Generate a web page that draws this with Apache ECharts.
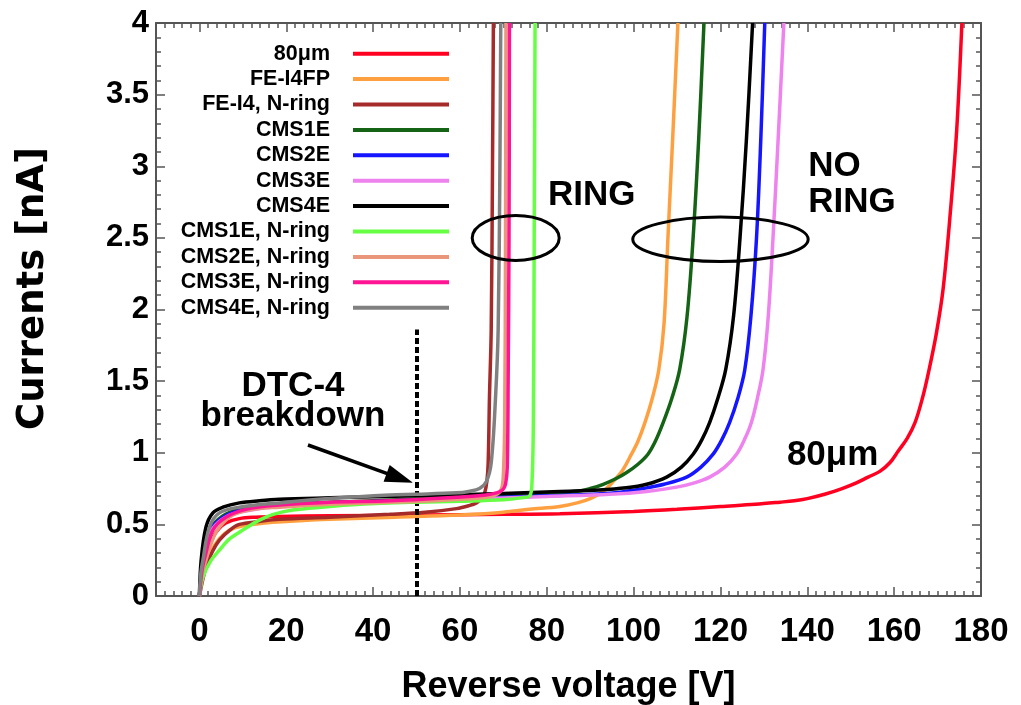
<!DOCTYPE html>
<html>
<head>
<meta charset="utf-8">
<script src="https://cdn.jsdelivr.net/npm/echarts@6/dist/echarts.min.js"></script>
<style>
  html, body { margin: 0; padding: 0; background: #fff; }
  #chart { width: 1021px; height: 705px; }
</style>
</head>
<body>
<div id="chart"></div>
<script>
// I–V curves: reverse voltage [V] vs current [nA]
const seriesNames = [
  '80\u03bcm', 'FE-I4FP', 'FE-I4, N-ring', 'CMS1E', 'CMS2E', 'CMS3E', 'CMS4E',
  'CMS1E, N-ring', 'CMS2E, N-ring', 'CMS3E, N-ring', 'CMS4E, N-ring'
];
const seriesColors = [
  '#ff0020', '#ffa040', '#a52a2a', '#156315', '#1515ff', '#ee82ee', '#000000',
  '#66ff44', '#e9967a', '#ff1493', '#808080'
];

const iv80um = [[0,0],[0.8,0.18],[2,0.33],[3.1,0.41],[4.5,0.47],[6.1,0.51],[9.2,0.54],[13,0.55],[18.4,0.555],[30,0.56],[50,0.565],[70,0.57],[83,0.575],[100,0.59],[110,0.605],[120,0.625],[128,0.64],[133.7,0.655],[137,0.665],[140,0.68],[144,0.71],[148,0.75],[151.3,0.79],[154,0.83],[156.7,0.87],[159,0.93],[160.9,1.01],[163,1.1],[164.8,1.21],[166.5,1.38],[167.9,1.56],[169.7,1.83],[171.3,2.15],[173,2.7],[174.4,3.25],[175.6,4.0]];
const ivFEI4FP = [[0,0],[1,0.18],[2.5,0.3],[4.6,0.4],[7,0.46],[10,0.49],[15,0.51],[20,0.52],[30,0.535],[45,0.55],[60,0.565],[70,0.585],[76,0.605],[83,0.625],[87,0.65],[90,0.68],[93,0.73],[95.3,0.8],[97.5,0.88],[99.5,0.99],[101,1.08],[102.6,1.21],[104.3,1.38],[105.8,1.58],[107,1.9],[107.9,2.5],[109,3.2],[110.2,4.0]];
const ivFEI4Nring = [[0,0],[1.5,0.2],[3,0.31],[4.6,0.39],[7,0.46],[9.2,0.5],[13.8,0.52],[18.4,0.535],[30,0.55],[43.8,0.57],[52,0.585],[59.2,0.61],[62,0.63],[63.8,0.65],[65,0.68],[65.7,0.72],[66.2,0.8],[66.5,0.93],[66.8,1.39],[67.2,1.86],[67.5,3],[67.7,4.0]];
const ivCMS1E = [[0,0],[0.7,0.25],[1.5,0.38],[3,0.49],[6,0.57],[10,0.61],[20,0.64],[40,0.665],[60,0.69],[76,0.71],[86.8,0.73],[90,0.75],[93,0.78],[96,0.82],[98.3,0.86],[101,0.92],[103.3,0.99],[105,1.08],[106.8,1.21],[108.8,1.38],[110.6,1.58],[112.3,1.95],[113.7,2.5],[115,3.2],[116.2,4.0]];
const ivCMS2E = [[0,0],[0.7,0.24],[1.5,0.37],[3,0.48],[6,0.56],[10,0.6],[20,0.635],[40,0.66],[60,0.68],[80,0.7],[90.6,0.71],[97,0.725],[102.2,0.75],[107,0.78],[112.2,0.83],[115.5,0.9],[118.3,0.99],[120.3,1.09],[122.1,1.21],[124,1.38],[125.6,1.58],[127,1.95],[128.3,2.5],[129.3,3.2],[130.2,4.0]];
const ivCMS3E = [[0,0],[0.7,0.23],[1.5,0.36],[3,0.47],[6,0.55],[10,0.59],[20,0.63],[40,0.655],[60,0.675],[80,0.695],[94.5,0.71],[103,0.73],[109.9,0.76],[114,0.79],[117.5,0.83],[121,0.9],[123.7,0.99],[125.5,1.09],[127.1,1.21],[128.5,1.38],[129.8,1.58],[131,1.95],[132.1,2.5],[133.3,3.2],[134.6,4.0]];
const ivCMS4E = [[0,0],[0.4,0.25],[1.5,0.48],[3.1,0.58],[5.4,0.62],[9.2,0.65],[13.8,0.665],[18.4,0.675],[30,0.685],[50,0.7],[70,0.715],[83,0.73],[92,0.74],[98.3,0.755],[103,0.78],[107.6,0.83],[111,0.9],[113.7,0.99],[115.7,1.09],[117.5,1.21],[119.4,1.38],[121.2,1.58],[123,1.95],[124.5,2.5],[126,3.2],[127.4,4.0]];
const ivCMS1ENring = [[0,0],[0.8,0.13],[2.5,0.24],[4.6,0.32],[7,0.4],[10,0.46],[13.8,0.53],[17,0.57],[21.5,0.6],[28,0.62],[36.9,0.64],[49.9,0.655],[60,0.662],[70,0.672],[74,0.685],[76.1,0.7],[76.6,0.8],[76.9,1.2],[77.1,2.5],[77.3,4.0]];
const ivCMS2ENring = [[0,0],[0.6,0.15],[1.5,0.25],[3,0.39],[4.6,0.48],[7.7,0.565],[12.3,0.605],[18.4,0.62],[30,0.64],[50,0.66],[60,0.675],[66,0.69],[68.5,0.71],[69.6,0.75],[70,0.85],[70.3,1.2],[70.5,2.5],[70.6,4.0]];
const ivCMS3ENring = [[0,0],[0.6,0.18],[1.5,0.3],[3.1,0.46],[6.1,0.55],[10.7,0.605],[18.4,0.635],[30,0.655],[43.8,0.665],[59.2,0.69],[66,0.705],[68.4,0.72],[69.8,0.74],[70.5,0.78],[70.9,0.9],[71.1,1.5],[71.3,2.5],[71.4,4.0]];
const ivCMS4ENring = [[0,0],[0.3,0.15],[0.8,0.25],[2.3,0.48],[4.6,0.58],[9.2,0.62],[18.4,0.65],[30,0.68],[43.8,0.705],[50,0.71],[59.2,0.72],[62,0.73],[64.5,0.75],[66.1,0.8],[67.2,0.93],[68.2,1.39],[68.8,1.86],[69.2,3],[69.4,4.0]];

const seriesData = [
  iv80um, ivFEI4FP, ivFEI4Nring, ivCMS1E, ivCMS2E, ivCMS3E, ivCMS4E,
  ivCMS1ENring, ivCMS2ENring, ivCMS3ENring, ivCMS4ENring
];

// axis ranges
const voltageRange = [-10, 180];
const currentRange = [0, 4];
const currentStep = 0.5;

// annotations (data coordinates)
const breakdownLine = [[50, 0], [50, 1.86]];
const breakdownArrow = [[25, 1.054], [46.15, 0.823]];
// ellipses: [centre V, centre I, half-width V, half-height I]
const ringEllipses = [[72.84, 2.499, 10.02, 0.157], [120.0, 2.49, 20.2, 0.155]];
// text notes: [V, I]
const noteTexts = ['DTC-4\nbreakdown', 'RING', 'NO\nRING', '80\u03bcm'];
const notePositions = [[21.55, 1.361], [80.3, 2.80], [140.2, 2.876], [135.3, 0.984]];
const noteAlign = ['center', 'left', 'left', 'left'];
const noteLineHeight = [30, 36, 36, 36];

const FONT = '"Liberation Sans", Arial, Helvetica, sans-serif';
const AXIS_GREY = '#555555';

const chart = echarts.init(document.getElementById('chart'), null, { renderer: 'canvas' });

const tickStyle = { color: AXIS_GREY, width: 1.5 };

function xAxisCfg(pos, main) {
  return {
    type: 'value', position: pos,
    min: voltageRange[0], max: voltageRange[1],
    minInterval: 20, maxInterval: 20, splitNumber: 10,
    axisLine: { show: true, onZero: false, lineStyle: { color: AXIS_GREY, width: 2 } },
    axisTick: { show: true, inside: true, length: 9, lineStyle: tickStyle },
    minorTick: { show: true, splitNumber: 10, length: 5, lineStyle: tickStyle },
    splitLine: { show: false },
    axisLabel: main ? {
      show: true, margin: 19, color: '#000', fontFamily: FONT, fontWeight: 'bold', fontSize: 33,
      showMinLabel: false,
      formatter: v => (v < 0 ? '' : String(v))
    } : { show: false },
    name: main ? 'Reverse voltage [V]' : '',
    nameLocation: 'middle', nameGap: 73,
    nameTextStyle: { color: '#000', fontFamily: FONT, fontWeight: 'bold', fontSize: 36 }
  };
}

function yAxisCfg(pos, main) {
  return {
    type: 'value', position: pos,
    min: currentRange[0], max: currentRange[1], interval: currentStep,
    axisLine: { show: true, onZero: false, lineStyle: { color: AXIS_GREY, width: 2 } },
    axisTick: { show: true, inside: true, length: 9, lineStyle: tickStyle },
    minorTick: { show: true, splitNumber: 5, length: 5, lineStyle: tickStyle },
    splitLine: { show: false },
    axisLabel: main ? {
      show: true, margin: 7, color: '#000', fontFamily: FONT, fontWeight: 'bold', fontSize: 31
    } : { show: false },
    name: main ? 'Currents [nA]' : '',
    nameLocation: 'middle', nameGap: 104, nameRotate: 90,
    nameTextStyle: {
      color: '#000', fontFamily: '"DejaVu Sans", ' + FONT, fontWeight: 'bold', fontSize: 37,
      padding: [0, 0, 0, 42]
    }
  };
}

const curveSeries = seriesNames.map((name, k) => ({
  name: name,
  type: 'line',
  data: seriesData[k],
  xAxisIndex: 0, yAxisIndex: 0,
  showSymbol: false,
  smooth: 0.35,
  lineStyle: { width: 3.5, color: seriesColors[k] },
  itemStyle: { color: seriesColors[k] },
  emphasis: { disabled: true },
  z: 2 + k
}));

// breakdown marker line and arrow hang off the first curve
curveSeries[0].markLine = {
  silent: true,
  animation: false,
  label: { show: false },
  emphasis: { disabled: true },
  data: [
    [
      { coord: breakdownLine[0], symbol: 'none', lineStyle: { type: [6, 3], width: 4, color: '#000' } },
      { coord: breakdownLine[1], symbol: 'none' }
    ],
    [
      { coord: breakdownArrow[0], symbol: 'none', lineStyle: { type: 'solid', width: 3.5, color: '#000' } },
      { coord: breakdownArrow[1], symbol: 'triangle', symbolSize: [18, 28] }
    ]
  ]
};

const ellipseSeries = {
  type: 'custom',
  name: 'ellipses',
  xAxisIndex: 0, yAxisIndex: 0,
  silent: true,
  z: 20,
  data: ringEllipses,
  renderItem: (params, api) => {
    const c = api.coord([api.value(0), api.value(1)]);
    const s = api.size([api.value(2), api.value(3)]);
    return {
      type: 'ellipse',
      shape: { cx: c[0], cy: c[1], rx: s[0], ry: s[1] },
      style: { fill: 'none', stroke: '#000', lineWidth: 3 }
    };
  }
};

const noteSeries = {
  type: 'custom',
  name: 'notes',
  xAxisIndex: 0, yAxisIndex: 0,
  silent: true,
  z: 21,
  data: notePositions,
  renderItem: (params, api) => {
    const i = params.dataIndex;
    const p = api.coord([api.value(0), api.value(1)]);
    return {
      type: 'text',
      x: p[0], y: p[1],
      style: {
        text: noteTexts[i],
        align: noteAlign[i],
        verticalAlign: 'middle',
        fontFamily: FONT, fontWeight: 'bold', fontSize: 35,
        lineHeight: noteLineHeight[i],
        fill: '#000'
      }
    };
  }
};

chart.setOption({
  animation: false,
  backgroundColor: '#ffffff',
  grid: { left: 156, right: 40, top: 23, bottom: 109, outerBoundsMode: 'none', containLabel: false },
  xAxis: [xAxisCfg('bottom', true), xAxisCfg('top', false)],
  yAxis: [yAxisCfg('left', true), yAxisCfg('right', false)],
  legend: {
    data: seriesNames,
    orient: 'vertical',
    align: 'right',
    right: 572,
    top: 41,
    padding: 0,
    itemGap: 0,
    itemWidth: 96,
    itemHeight: 4,
    icon: 'rect',
    selectedMode: false,
    textStyle: {
      color: '#000', fontFamily: FONT, fontWeight: 'bold', fontSize: 21.5,
      lineHeight: 25.4, padding: [0, 18, 0, 0]
    }
  },
  series: curveSeries.concat([ellipseSeries, noteSeries])
});
</script>
</body>
</html>
